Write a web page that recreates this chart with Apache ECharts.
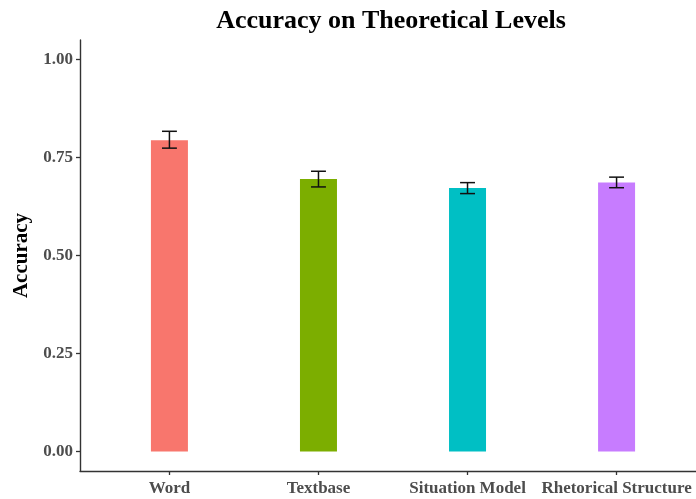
<!DOCTYPE html>
<html><head><meta charset="utf-8">
<script src="https://cdn.jsdelivr.net/npm/echarts@6/dist/echarts.min.js"></script>
<style>html,body{margin:0;padding:0;background:#fff}#c{width:696px;height:499px}</style>
</head><body><div id="c"></div>
<script>
const categories = ['Word', 'Textbase', 'Situation Model', 'Rhetorical Structure'];
const accuracy = [0.794, 0.695, 0.672, 0.686];
const errLow = [0.774, 0.675, 0.658, 0.673];
const errHigh = [0.817, 0.715, 0.686, 0.700];
const colors = ['#F8766D', '#7CAE00', '#00BFC4', '#C77CFF'];
const yTicks = [0, 0.25, 0.5, 0.75, 1];

const font = 'Liberation Serif, Times New Roman, serif';
const chart = echarts.init(document.getElementById('c'));
const xPos = categories.map((c, i) => i + 1);
chart.setOption({
  animation: false,
  backgroundColor: '#fff',
  title: {
    text: 'Accuracy on Theoretical Levels',
    left: 386, textAlign: 'center', top: 3,
    textStyle: {fontFamily: font, fontWeight: 'bold', fontSize: 26, color: '#000'}
  },
  grid: {left: 80, top: 40, width: 626, height: 431, outerBoundsMode: 'none', containLabel: false},
  xAxis: {
    type: 'value', min: 0.4, max: 4.6,
    splitLine: {show: false},
    axisLine: {show: true, onZero: false, lineStyle: {color: '#333', width: 1.4}},
    axisTick: {show: true, customValues: xPos, length: 4, lineStyle: {color: '#333', width: 1.3}},
    axisLabel: {
      customValues: xPos, margin: 9,
      formatter: v => categories[Math.round(v) - 1],
      fontFamily: font, fontWeight: 'bold', fontSize: 17, color: '#4D4D4D'
    }
  },
  yAxis: {
    type: 'value', min: -0.05, max: 1.05,
    name: 'Accuracy', nameLocation: 'middle', nameRotate: 90, nameGap: 47,
    nameTextStyle: {fontFamily: font, fontWeight: 'bold', fontSize: 21, color: '#000'},
    splitLine: {show: false},
    axisLine: {show: true, onZero: false, lineStyle: {color: '#333', width: 1.4}},
    axisTick: {show: true, customValues: yTicks, length: 4, lineStyle: {color: '#333', width: 1.3}},
    axisLabel: {
      customValues: yTicks, margin: 7,
      formatter: v => v.toFixed(2),
      fontFamily: font, fontWeight: 'bold', fontSize: 17, color: '#4D4D4D'
    }
  },
  series: [
    {
      type: 'bar', barWidth: 37,
      data: xPos.map((x, i) => ({value: [x, accuracy[i]], itemStyle: {color: colors[i]}}))
    },
    {
      type: 'custom',
      data: xPos.map((x, i) => [x, errLow[i], errHigh[i]]),
      renderItem: function (params, api) {
        const x = api.value(0), lo = api.value(1), hi = api.value(2);
        const pHi = api.coord([x, hi]), pLo = api.coord([x, lo]);
        const half = api.size([0.1, 0])[0] / 2;
        const st = {stroke: '#111', lineWidth: 1.5};
        return {type: 'group', children: [
          {type: 'line', shape: {x1: pHi[0], y1: pHi[1], x2: pLo[0], y2: pLo[1]}, style: st},
          {type: 'line', shape: {x1: pHi[0] - half, y1: pHi[1], x2: pHi[0] + half, y2: pHi[1]}, style: st},
          {type: 'line', shape: {x1: pLo[0] - half, y1: pLo[1], x2: pLo[0] + half, y2: pLo[1]}, style: st}
        ]};
      },
      z: 5
    }
  ]
});
</script></body></html>
